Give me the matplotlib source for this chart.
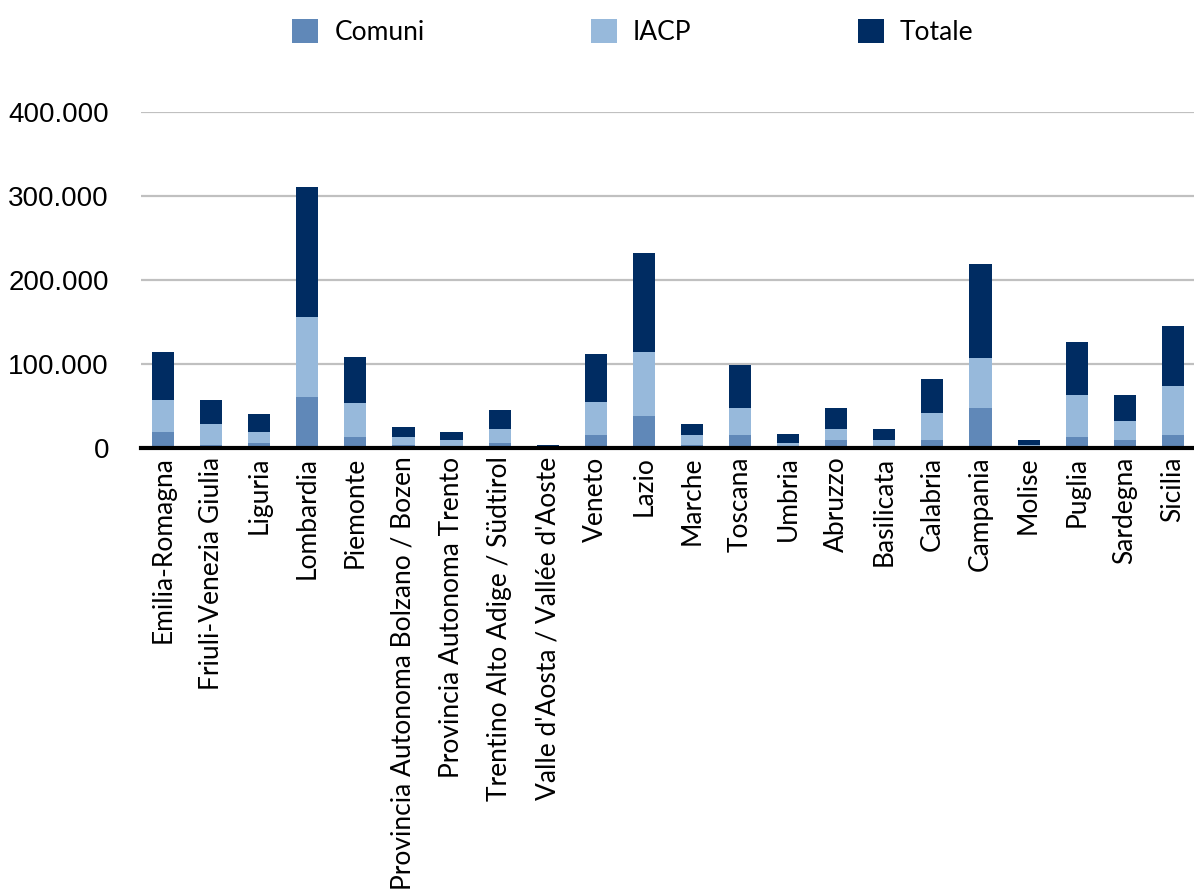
import numpy as np
import matplotlib
matplotlib.use("Agg")
import matplotlib.pyplot as plt
from matplotlib.ticker import FuncFormatter

# values (units)
regioni = [
    "Emilia-Romagna",
    "Friuli-Venezia Giulia",
    "Liguria",
    "Lombardia",
    "Piemonte",
    "Provincia Autonoma Bolzano / Bozen",
    "Provincia Autonoma Trento",
    "Trentino Alto Adige / Südtirol",
    "Valle d'Aosta / Vallée d'Aoste",
    "Veneto",
    "Lazio",
    "Marche",
    "Toscana",
    "Umbria",
    "Abruzzo",
    "Basilicata",
    "Calabria",
    "Campania",
    "Molise",
    "Puglia",
    "Sardegna",
    "Sicilia",
]
comuni = [19000, 3600, 6000, 60700, 13000, 3600, 0, 6500, 0, 15500, 38000,
          3600, 15500, 0, 10000, 0, 9500, 47600, 0, 13000, 9500, 15500]
iacp = [38000, 25000, 13500, 95300, 40600, 9400, 10000, 16300, 0, 39300, 76000,
        11900, 32100, 6700, 13200, 10300, 32200, 60400, 4400, 50000, 22500, 58500]
totale = [57000, 28400, 21500, 155000, 54500, 12000, 9800, 22200, 4000, 57200, 118000,
          13100, 51200, 10800, 25000, 13000, 40500, 111000, 5700, 64000, 31000, 72000]
y_ticks = [0, 100000, 200000, 300000, 400000]

C_COMUNI = "#6088b8"
C_IACP = "#97b9db"
C_TOT = "#002c62"

fig = plt.figure(figsize=(11.94, 8.93), dpi=100)
ax = fig.add_axes([0.118, 0.498, 0.882, 0.3765])

x = np.arange(len(regioni))
w = 0.46
b1 = np.array(comuni)
b2 = b1 + np.array(iacp)
ax.bar(x, comuni, w, color=C_COMUNI, label="Comuni", zorder=3)
ax.bar(x, iacp, w, bottom=b1, color=C_IACP, label="IACP", zorder=3)
ax.bar(x, totale, w, bottom=b2, color=C_TOT, label="Totale", zorder=3)

ax.set_xlim(-0.46, len(regioni) - 0.56)
ax.set_ylim(0, 400000)
ax.set_yticks(y_ticks)
ax.yaxis.set_major_formatter(FuncFormatter(lambda v, p: f"{int(v):,}".replace(",", ".")))
ax.grid(axis="y", color="#c0c0c0", linewidth=1.6, zorder=0)
ax.tick_params(axis="y", length=0, pad=23, labelsize=20)
for lab in ax.get_yticklabels():
    lab.set_family("Liberation Sans")
ax.set_xticks(x)
ax.set_xticklabels(regioni, rotation=90, fontsize=19, family="Lato")
ax.tick_params(axis="x", length=0, pad=6)

for s in ["top", "right", "left"]:
    ax.spines[s].set_visible(False)
ax.spines["bottom"].set_linewidth(3)
ax.spines["bottom"].set_color("black")
ax.spines["bottom"].set_zorder(4)

fig.legend(loc="upper center", bbox_to_anchor=(0.53, 1.005), ncol=3, frameon=False,
           prop={"family": "Lato", "size": 19}, handlelength=1.0, handleheight=1.0,
           handletextpad=0.6, columnspacing=6.3)

fig.savefig("out.png", dpi=100)
